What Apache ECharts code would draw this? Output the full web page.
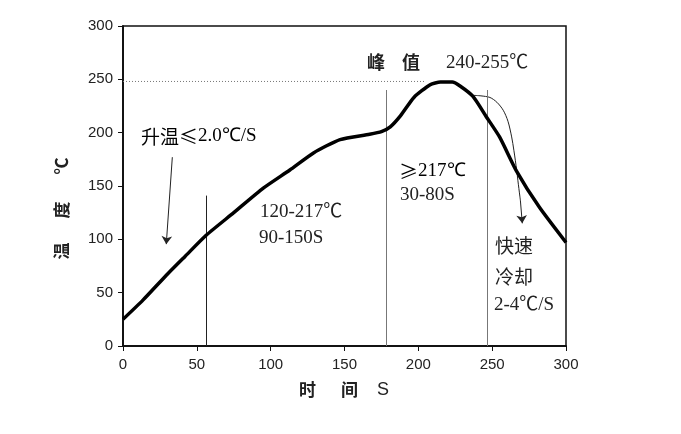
<!DOCTYPE html>
<html><head><meta charset="utf-8">
<script src="https://cdn.jsdelivr.net/npm/echarts@6/dist/echarts.min.js"></script>
<style>html,body{margin:0;padding:0;background:#fff}#c{width:681px;height:434px}</style>
</head><body><div id="c"></div>
<script>
// Reflow temperature profile (time s, temperature °C)
var timeS = [0, 13.5, 30.5, 42, 56.5, 75, 95, 113, 129, 147, 167, 175, 181, 188, 197, 208, 215, 223, 228, 237, 246, 255, 266.5, 282, 300];
var tempC = [25, 43, 68, 84, 104, 125, 148, 165, 181, 193.5, 198.5, 201, 205.5, 216, 233, 245, 247.5, 247.5, 244, 234, 215, 196, 164, 130, 97];
// thin cooling arrow curve
var coolT = [237.2, 242.4, 248.5, 253.2, 257.5, 260.7, 263.2, 264.7, 266.6, 267.4, 268.8, 269.1];
var coolV = [235, 234.5, 233, 228.5, 221, 210.7, 196, 183.5, 164.8, 155.4, 139.8, 136.7];
var coolTip = [270.4, 115];
// heating arrow
var heatArrow = [[33.4, 177], [29.3, 95.5]];
// reference lines
var peakLine = [[0, 248], [205, 248]];
var vLines = [[56.4, 141], [178, 240], [246.5, 240]];
var xTicks = [0, 50, 100, 150, 200, 250, 300];
var yTicks = [0, 50, 100, 150, 200, 250, 300];

var chart = echarts.init(document.getElementById('c'));
var serif = 'Liberation Serif, "Noto Sans CJK SC"';
var cjk = '"Noto Sans CJK SC"';
var axisCommon = {
  min: 0, max: 300, interval: 50,
  axisLine: {show: true, lineStyle: {color: '#111', width: 1.5}},
  splitLine: {show: false}
};
var curve = timeS.map(function (t, i) { return [t, tempC[i]]; });
var cool = coolT.map(function (t, i) { return [t, coolV[i]]; });
var rich = {
  c: {fontFamily: cjk, fontSize: 19, color: '#222'},
  n: {fontFamily: 'Liberation Serif', fontSize: 19, color: '#222'}
};

chart.setOption({
  backgroundColor: '#fff',
  animation: false,
  grid: {left: 123, right: 115, top: 26, bottom: 88, show: true, borderColor: '#111', borderWidth: 1.5},
  xAxis: [
    Object.assign({type: 'value', position: 'bottom',
      axisTick: {show: true, inside: false, length: 5, lineStyle: {color: '#111'}},
      axisLabel: {color: '#222', fontSize: 15, fontFamily: 'Liberation Sans', margin: 11,
        formatter: function (v) { return xTicks.indexOf(v) >= 0 ? String(v) : ''; }}}, axisCommon),
    Object.assign({type: 'value', position: 'top',
      axisTick: {show: true, inside: true, length: 5, lineStyle: {color: '#111'}},
      axisLabel: {show: false}}, axisCommon)
  ],
  yAxis: [
    Object.assign({type: 'value', position: 'left',
      axisTick: {show: true, inside: false, length: 5, lineStyle: {color: '#111'}},
      axisLabel: {color: '#222', fontSize: 15, fontFamily: 'Liberation Sans', margin: 10,
        formatter: function (v) { return yTicks.indexOf(v) >= 0 ? String(v) : ''; }}}, axisCommon),
    Object.assign({type: 'value', position: 'right',
      axisTick: {show: true, inside: true, length: 5, lineStyle: {color: '#111'}},
      axisLabel: {show: false}}, axisCommon)
  ],
  series: [
    {
      type: 'line', data: [peakLine[0], peakLine[1]], symbol: 'none',
      lineStyle: {color: '#777', width: 1, type: [1, 2]}, silent: true, z: 1
    },
    {
      type: 'line', data: [], symbol: 'none', silent: true,
      markLine: {
        silent: true, symbol: 'none', label: {show: false},
        data: [
          [{coord: [vLines[0][0], 0], lineStyle: {color: '#222', width: 1, type: 'solid'}}, {coord: [vLines[0][0], vLines[0][1]]}],
          [{coord: [vLines[1][0], 0], lineStyle: {color: '#777', width: 1, type: 'solid'}}, {coord: [vLines[1][0], vLines[1][1]]}],
          [{coord: [vLines[2][0], 0], lineStyle: {color: '#777', width: 1, type: 'solid'}}, {coord: [vLines[2][0], vLines[2][1]]}]
        ]
      }
    },
    {
      type: 'line', data: curve, symbol: 'none', smooth: 0.2,
      lineStyle: {color: '#000', width: 3.5}, z: 5
    },
    {
      type: 'line', data: cool, symbol: 'none', smooth: 0.3,
      lineStyle: {color: '#222', width: 1}, z: 4,
      markLine: {
        silent: true, symbol: ['none', 'arrow'], symbolSize: 8, label: {show: false},
        lineStyle: {color: '#222', width: 1, type: 'solid'},
        data: [
          [{coord: cool[cool.length - 1]}, {coord: coolTip}],
          [{coord: heatArrow[0]}, {coord: heatArrow[1]}]
        ]
      }
    }
  ],
  graphic: [
    {type: 'text', left: 141, top: 127, style: {text: '{c|升温≤}{n|2.0℃/S}', rich: rich}},
    {type: 'text', left: 260, top: 203, style: {text: '120-217℃', font: '19px ' + serif, fill: '#222'}},
    {type: 'text', left: 259, top: 229, style: {text: '90-150S', font: '19px ' + serif, fill: '#222'}},
    {type: 'text', left: 399, top: 162, style: {text: '{c|≥}{n|217℃}', rich: rich}},
    {type: 'text', left: 400, top: 186, style: {text: '30-80S', font: '19px ' + serif, fill: '#222'}},
    {type: 'text', left: 367, top: 53, style: {text: '峰', font: 'bold 18px ' + cjk, fill: '#222'}},
    {type: 'text', left: 402, top: 53, style: {text: '值', font: 'bold 18px ' + cjk, fill: '#222'}},
    {type: 'text', left: 446, top: 54, style: {text: '240-255℃', font: '19px ' + serif, fill: '#222'}},
    {type: 'text', left: 495, top: 236, style: {text: '快速', font: '19px ' + cjk, fill: '#222'}},
    {type: 'text', left: 495, top: 267, style: {text: '冷却', font: '19px ' + cjk, fill: '#222'}},
    {type: 'text', left: 494, top: 296, style: {text: '2-4℃/S', font: '19px ' + serif, fill: '#222'}},
    {type: 'text', left: 299, top: 381, style: {text: '时', font: 'bold 17px ' + cjk, fill: '#222'}},
    {type: 'text', left: 341, top: 381, style: {text: '间', font: 'bold 17px ' + cjk, fill: '#222'}},
    {type: 'text', left: 377, top: 381, style: {text: 'S', font: '18px Liberation Sans', fill: '#222'}},
    {type: 'text', x: 62, y: 251, rotation: Math.PI / 2, style: {text: '温', font: 'bold 17px ' + cjk, fill: '#222', align: 'center', verticalAlign: 'middle'}},
    {type: 'text', x: 62, y: 210, rotation: Math.PI / 2, style: {text: '度', font: 'bold 17px ' + cjk, fill: '#222', align: 'center', verticalAlign: 'middle'}},
    {type: 'text', x: 62, y: 166, rotation: Math.PI / 2, style: {text: '℃', font: 'bold 17px ' + cjk, fill: '#222', align: 'center', verticalAlign: 'middle'}}
  ]
});
</script></body></html>
